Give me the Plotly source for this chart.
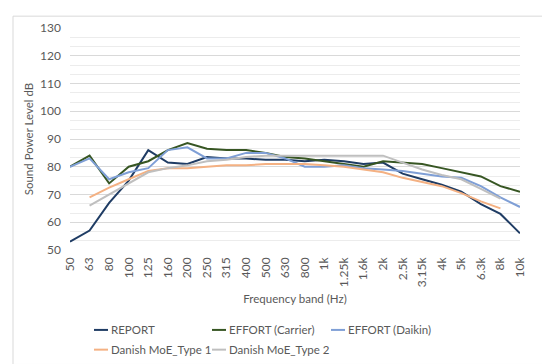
import plotly.graph_objects as go

bands = ["50", "63", "80", "100", "125", "160", "200", "250", "315", "400", "500", "630",
         "800", "1k", "1.25k", "1.6k", "2k", "2.5k", "3.15k", "4k", "5k", "6.3k", "8k", "10k"]

report = [53, 57, 67, 75, 86, 81.5, 81, 83.5, 83, 83, 82.5, 82.5,
          82, 82.5, 82, 81, 81.5, 77.5, 75.5, 73.5, 71, 66.5, 63, 56]
effort_carrier = [80, 84, 74, 80, 82, 86, 88.5, 86.5, 86, 86, 85, 83.5,
                  83, 82, 81, 80, 82, 81.5, 81, 79.5, 78, 76.5, 73, 71]
effort_daikin = [80, 83, 75.5, 78, 79.5, 86, 87, 83, 83, 85, 85, 83,
                 80, 80, 80.5, 79.5, 79, 78.5, 77.5, 76.5, 76, 73, 69, 65.5]
danish_type1 = [None, 69, 72.5, 75.5, 78.5, 79.5, 79.5, 80, 80.5, 80.5, 81, 81,
                81, 80.5, 80, 79, 78, 76, 74.5, 73, 70.5, 67.5, 65, None]
danish_type2 = [None, 66, 70, 74, 78, 79.5, 80.5, 82, 82.5, 83.5, 84, 84,
                84, 84, 84, 84, 84, 81.5, 79, 77, 75.5, 72, 68.5, None]

names = ["REPORT", "EFFORT (Carrier)", "EFFORT (Daikin)", "Danish MoE_Type 1", "Danish MoE_Type 2"]
values = [report, effort_carrier, effort_daikin, danish_type1, danish_type2]
colors = ["#1f3c64", "#375623", "#7f9fd6", "#f4b183", "#bfbfbf"]

FONT = "Lato"
GREY = "#595959"
W, H = 550, 364
L, R, T, B = 62, 38, 17, 122
PW, PH = W - L - R, H - T - B


def px_x(x):
    return (x - L) / PW


def px_y(y):
    return (H - B - y) / PH


fig = go.Figure()
for name, vals, col in zip(names, values, colors):
    fig.add_trace(go.Scatter(x=bands, y=vals, name=name, mode="lines",
                             line=dict(color=col, width=2), connectgaps=False,
                             showlegend=False))

fig.update_layout(
    width=W, height=H,
    margin=dict(l=L, r=R, t=T, b=B),
    paper_bgcolor="white", plot_bgcolor="white",
    font=dict(family=FONT, size=11.5, color=GREY),
    showlegend=False,
    xaxis=dict(type="category", tickangle=-90, showgrid=False, showline=False,
               ticks="", tickfont=dict(size=12, color=GREY), ticklabelstandoff=4,
               title=dict(text="Frequency band (Hz)", font=dict(size=11.5, color=GREY), standoff=8),
               zeroline=False),
    yaxis=dict(range=[50, 130], dtick=10, tick0=50, showgrid=True, gridcolor="#d9d9d9",
               gridwidth=1, zeroline=False, showline=False, ticks="",
               tickfont=dict(size=12, color=GREY), ticklabelstandoff=8,
               minor=dict(dtick=10 / 3, tick0=50, showgrid=True, gridcolor="#ececec", gridwidth=1),
               title=dict(text="Sound Power Level dB", font=dict(size=11.5, color=GREY), standoff=4)),
)

# outer chart frame
fig.add_shape(type="rect", xref="paper", yref="paper",
              x0=px_x(5), x1=px_x(545), y0=px_y(358), y1=px_y(5),
              line=dict(color="#d9d9d9", width=1), layer="below")

# legend (two rows, Excel style short line + label)
legend_pos = [(86, 323), (204, 323), (323, 323), (86, 343), (204, 343)]
for name, col, (lx, ly) in zip(names, colors, legend_pos):
    fig.add_shape(type="line", xref="paper", yref="paper",
                  x0=px_x(lx), x1=px_x(lx + 14), y0=px_y(ly), y1=px_y(ly),
                  line=dict(color=col, width=2))
    fig.add_annotation(xref="paper", yref="paper", x=px_x(lx + 15), y=px_y(ly),
                       xanchor="left", yanchor="middle", text=name, showarrow=False,
                       font=dict(size=11.5, color=GREY, family=FONT))

fig.write_html("out.html")
